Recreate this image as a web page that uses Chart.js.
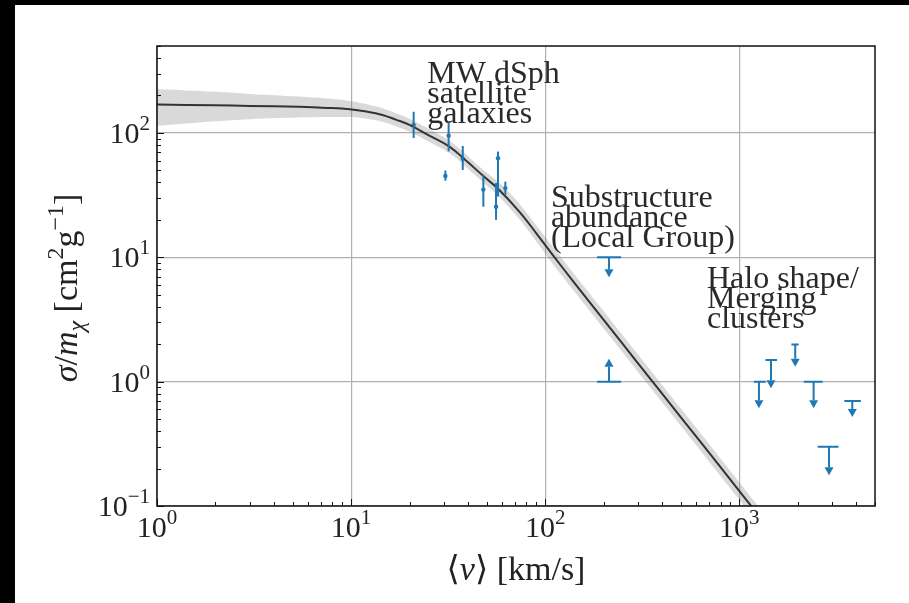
<!DOCTYPE html>
<html>
<head>
<meta charset="utf-8">
<script src="https://cdn.jsdelivr.net/npm/chart.js@4/dist/chart.umd.min.js"></script>
<style>
  html, body { margin: 0; background: #000; }
  #wrap { position: absolute; left: 15px; top: 5px; width: 894px; height: 598px; background: #fff; }
</style>
</head>
<body>
<div id="wrap"><canvas id="myChart" width="894" height="598"></canvas></div>
<script>
// fitted cross section curve and its band
const curveV = [1, 2, 3, 5.4, 7.5, 9.85, 12, 14.5, 17, 20, 25, 32.1, 40, 48, 58, 73.5, 90, 108.5, 140, 200, 300, 500, 800, 1200, 1500];
const curveY = [169, 167, 165, 162, 159, 155, 148.5, 139.5, 128, 116, 96, 77.6, 58, 45, 34.8, 23.3, 15.6, 10.6, 6.35, 3.14, 1.41, 0.517, 0.205, 0.092, 0.059];
const bandHi = [226, 214, 206, 196, 189, 181, 170, 158, 144, 130, 108, 86.5, 65, 50.4, 39.7, 27, 18, 12.4, 7.45, 3.69, 1.66, 0.607, 0.241, 0.108, 0.069];
const bandLo = [114, 124, 129, 133, 134, 134, 130, 123, 113, 102, 85.5, 69, 51.6, 40, 30.6, 20.3, 13.4, 9.0, 5.4, 2.67, 1.2, 0.44, 0.174, 0.078, 0.05];

// MW dSph satellites
const dsphV  = [21, 31.8, 30.6, 37.6, 48, 57.1, 55.8, 62.3];
const dsphY  = [116, 95, 45, 62, 35, 62.7, 25.5, 36];
const dsphLo = [91, 71, 41.3, 50.4, 25.5, 30.8, 20, 31.8];
const dsphHi = [148, 120, 49.8, 78.5, 46, 70.8, 39.6, 40.6];

// limits: substructure (2) and halo shape / clusters (6)
const limV   = [213, 213, 1262, 1456, 1941, 2414, 3820, 2898];
const limY   = [10, 1.0, 1.0, 1.49, 1.99, 1.0, 0.70, 0.30];
const limTip = [6.9, 1.53, 0.61, 0.885, 1.32, 0.61, 0.52, 0.177];
const limXlo = [185, 185, 1188, 1364, 1855, 2148, 3475, 2535];
const limXhi = [246, 246, 1368, 1564, 2023, 2687, 4230, 3243];

const xTicks = [1, 10, 100, 1000];
const xTickExp = ['0', '1', '2', '3'];
const yTicks = [0.1, 1, 10, 100];
const yTickExp = ['\u22121', '0', '1', '2'];

const annLines = [['MW dSph', 'satellite', 'galaxies'], ['Substructure', 'abundance', '(Local Group)'], ['Halo shape/', 'Merging', 'clusters']];
const annV = [24.7, 107, 681];
const annY = [251, 25.4, 5.7];

const blue = '#1f77b4';
const serif = '"Liberation Serif", "DejaVu Serif", serif';

function pts(xs, ys) { return xs.map((x, i) => ({ x: x, y: ys[i] })); }

function drawRich(ctx, parts, x, y, align) {
  let w = 0;
  parts.forEach(p => {
    ctx.font = (p.it ? 'italic ' : '') + p.size + 'px ' + serif;
    p.w = ctx.measureText(p.t).width;
    w += p.w;
  });
  let cx = align === 'right' ? x - w : align === 'center' ? x - w / 2 : x;
  parts.forEach(p => {
    ctx.font = (p.it ? 'italic ' : '') + p.size + 'px ' + serif;
    ctx.fillText(p.t, cx, y + (p.dy || 0));
    cx += p.w;
  });
}

const extras = {
  id: 'extras',
  afterDatasetsDraw(chart) {
    const ctx = chart.ctx, xs = chart.scales.x, ys = chart.scales.y;
    const a = chart.chartArea;
    ctx.save();
    ctx.beginPath();
    ctx.rect(a.left, a.top, a.right - a.left, a.bottom - a.top);
    ctx.clip();
    ctx.strokeStyle = blue;
    ctx.fillStyle = blue;
    ctx.lineWidth = 2;
    dsphV.forEach((v, i) => {
      const px = xs.getPixelForValue(v);
      ctx.beginPath();
      ctx.moveTo(px, ys.getPixelForValue(dsphLo[i]));
      ctx.lineTo(px, ys.getPixelForValue(dsphHi[i]));
      ctx.stroke();
    });
    limV.forEach((v, i) => {
      const px = xs.getPixelForValue(v);
      const py = ys.getPixelForValue(limY[i]);
      const pt = ys.getPixelForValue(limTip[i]);
      const dir = Math.sign(pt - py), head = 8;
      ctx.beginPath();
      ctx.moveTo(xs.getPixelForValue(limXlo[i]), py);
      ctx.lineTo(xs.getPixelForValue(limXhi[i]), py);
      ctx.moveTo(px, py);
      ctx.lineTo(px, pt - dir * head);
      ctx.stroke();
      ctx.beginPath();
      ctx.moveTo(px - 4.5, pt - dir * head);
      ctx.lineTo(px + 4.5, pt - dir * head);
      ctx.lineTo(px, pt);
      ctx.closePath();
      ctx.fill();
    });
    ctx.restore();
  },
  afterDraw(chart) {
    const ctx = chart.ctx, xs = chart.scales.x, ys = chart.scales.y;
    const a = chart.chartArea;
    ctx.save();
    // frame
    ctx.strokeStyle = '#111';
    ctx.lineWidth = 1.5;
    ctx.strokeRect(a.left, a.top, a.right - a.left, a.bottom - a.top);
    // major and minor ticks, pointing inward
    ctx.lineWidth = 1;
    ctx.beginPath();
    for (let d = 1; d <= 1000; d *= 10) {
      for (let k = 1; k <= 9; k++) {
        const v = d * k;
        if (v > xs.max) break;
        const px = Math.round(xs.getPixelForValue(v)) + 0.5;
        ctx.moveTo(px, a.bottom);
        ctx.lineTo(px, a.bottom - (k === 1 ? 7 : 4));
      }
    }
    for (let d = 0.1; d <= 100.1; d *= 10) {
      for (let k = 1; k <= 9; k++) {
        const v = d * k;
        if (v > ys.max) break;
        const py = Math.round(ys.getPixelForValue(v)) + 0.5;
        ctx.moveTo(a.left, py);
        ctx.lineTo(a.left + (k === 1 ? 7 : 4), py);
      }
    }
    ctx.stroke();
    // tick labels
    ctx.fillStyle = '#222';
    ctx.textBaseline = 'alphabetic';
    ctx.textAlign = 'left';
    xTicks.forEach((v, i) => {
      drawRich(ctx, [{ t: '10', size: 30 }, { t: xTickExp[i], size: 21, dy: -13 }],
        xs.getPixelForValue(v), a.bottom + 31, 'center');
    });
    yTicks.forEach((v, i) => {
      drawRich(ctx, [{ t: '10', size: 30 }, { t: yTickExp[i], size: 21, dy: -13 }],
        a.left - 7, ys.getPixelForValue(v) + 10, 'right');
    });
    // axis titles
    drawRich(ctx, [{ t: '\u27E8', size: 34 }, { t: 'v', size: 34, it: true }, { t: '\u27E9 [km/s]', size: 34 }],
      (a.left + a.right) / 2, a.bottom + 74, 'center');
    ctx.save();
    ctx.translate(62, (a.top + a.bottom) / 2 + 12);
    ctx.rotate(-Math.PI / 2);
    drawRich(ctx, [
      { t: '\u03C3', size: 34, it: true }, { t: '/', size: 34 }, { t: 'm', size: 34, it: true },
      { t: '\u03C7', size: 24, it: true, dy: 7 }, { t: ' [cm', size: 34 }, { t: '2', size: 24, dy: -14 },
      { t: 'g', size: 34 }, { t: '\u22121', size: 24, dy: -14 }, { t: ']', size: 34 }
    ], 0, 0, 'center');
    ctx.restore();
    // annotations
    ctx.fillStyle = '#2a2a2a';
    ctx.font = '32px ' + serif;
    annLines.forEach((lines, i) => {
      const px = xs.getPixelForValue(annV[i]);
      const py = ys.getPixelForValue(annY[i]);
      lines.forEach((t, j) => ctx.fillText(t, px, py + j * 20));
    });
    ctx.restore();
  }
};

const data = {
  datasets: [
    {
      data: pts(curveV, bandHi),
      showLine: true, fill: '+1', borderWidth: 0, pointRadius: 0,
      backgroundColor: 'rgba(120,120,120,0.28)', tension: 0.4
    },
    {
      data: pts(curveV, bandLo),
      showLine: true, fill: false, borderWidth: 0, pointRadius: 0, tension: 0.4
    },
    {
      data: pts(curveV, curveY),
      showLine: true, borderColor: '#1a1a1a', borderWidth: 2, pointRadius: 0, tension: 0.4
    },
    {
      data: pts(dsphV, dsphY),
      pointRadius: 2.2, backgroundColor: blue, borderWidth: 0
    }
  ]
};

const config = {
  type: 'scatter',
  data: data,
  options: {
    responsive: false,
    animation: false,
    layout: { padding: { top: 41, right: 34, left: 0, bottom: 0 } },
    plugins: { legend: { display: false }, tooltip: { enabled: false } },
    scales: {
      x: {
        type: 'logarithmic', min: 1, max: 5000,
        afterBuildTicks: s => { s.ticks = xTicks.map(v => ({ value: v })); },
        afterFit: s => { s.height = 97; },
        grid: { color: '#b0b0b0', lineWidth: 1.2, drawTicks: false },
        border: { display: false },
        ticks: { display: false }
      },
      y: {
        type: 'logarithmic', min: 0.1, max: 500,
        afterBuildTicks: s => { s.ticks = yTicks.map(v => ({ value: v })); },
        afterFit: s => { s.width = 142; },
        grid: { color: '#b0b0b0', lineWidth: 1.2, drawTicks: false },
        border: { display: false },
        ticks: { display: false }
      }
    }
  },
  plugins: [extras]
};

const myChart = new Chart(document.getElementById('myChart'), config);
</script>
</body>
</html>
